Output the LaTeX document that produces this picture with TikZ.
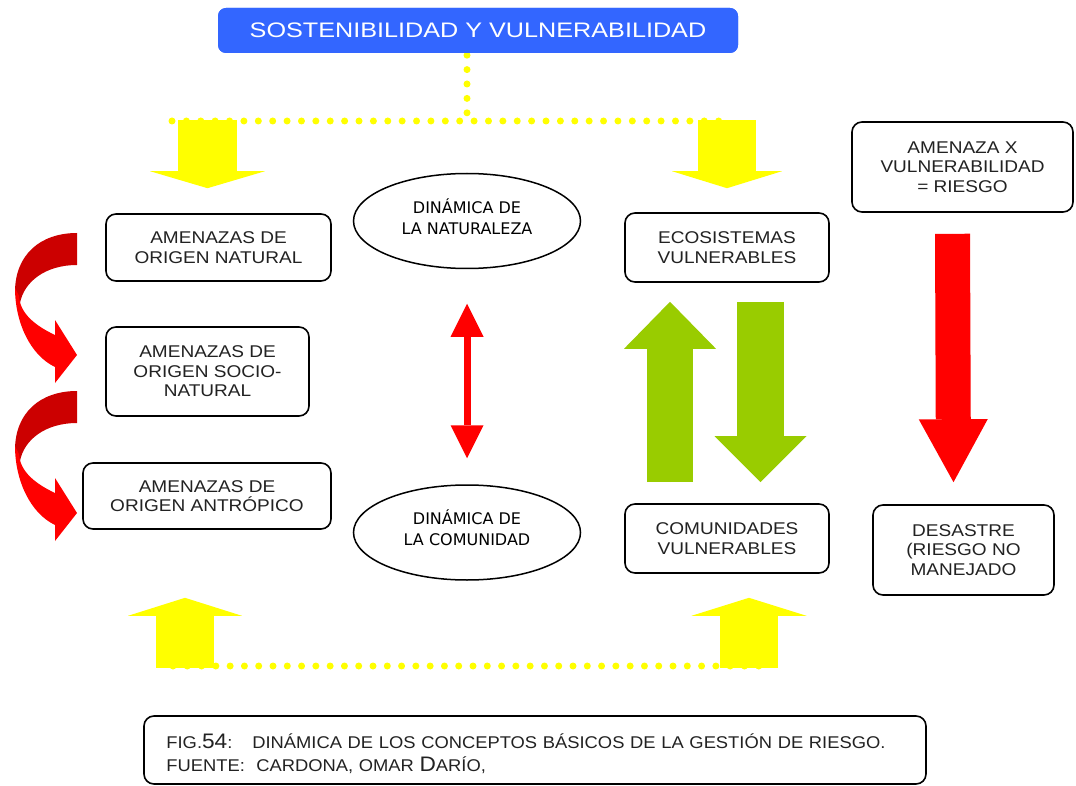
\documentclass[tikz,border=0pt]{standalone}
\usepackage{fontspec}
\setmainfont{Liberation Sans}
\newfontfamily\boxfont[FakeStretch=1.12]{Liberation Sans}
\newfontfamily\titlefont[FakeStretch=1.2]{Liberation Sans}
\newfontfamily\elfont{DejaVu Sans}
\newfontfamily\capfont[FakeStretch=1.08]{Liberation Sans}
\usetikzlibrary{arrows.meta,shapes.geometric,calc}
\definecolor{ttlblue}{HTML}{3366FF}
\definecolor{ylw}{HTML}{FFFF00}
\definecolor{grn}{HTML}{99CC00}
\definecolor{rd}{HTML}{FF0000}
\definecolor{drd}{HTML}{CC0000}
\definecolor{txt}{HTML}{222222}
\begin{document}
\begin{tikzpicture}[x=1pt,y=-1pt,
  rbox/.style={draw=black, line width=1.6pt, rounded corners=10pt, fill=white, align=center, text=txt, font=\boxfont\fontsize{17}{19.5}\selectfont, inner sep=0pt},
  ell/.style={ellipse, draw=black, line width=1.5pt, minimum width=227pt, minimum height=95pt, inner sep=0pt},
  elltext/.style={align=center, inner sep=0pt, text=black, font=\elfont\fontsize{16}{21}\selectfont},
  dots/.style={draw=ylw, line width=7pt, line cap=round},
  blk/.style n args={4}{draw=#1, fill=#1, line width=#2, -{Triangle[width=#3,length=#4,line width=0pt]}},
]
\useasboundingbox (0,0) rectangle (1076,786);

% dotted connectors (behind)
\coordinate (tl) at (172,121);
\coordinate (tr) at (733,121);
\coordinate (bl) at (173,666);
\coordinate (br) at (773,666);
\draw[dots, dash pattern=on 0pt off 14.385pt] (tl) -- (tr);
\draw[dots, dash pattern=on 0pt off 14.286pt] (bl) -- (br);

% title
\node[fill=ttlblue, rounded corners=8pt, minimum width=520pt, minimum height=45pt, inner sep=0pt,
      text=white, font=\titlefont\fontsize{21}{24}\selectfont] (title) at (478,30.5) {SOSTENIBILIDAD Y VULNERABILIDAD};
\draw[dots, dash pattern=on 0pt off 14.4pt] ($(title.south)+(-11,2)$) -- ($(title.south)+(-11,60)$);
\node[fill=ttlblue, rounded corners=8pt, minimum width=520pt, minimum height=45pt, inner sep=0pt,
      text=white, font=\titlefont\fontsize{21}{24}\selectfont] at (title) {SOSTENIBILIDAD Y VULNERABILIDAD};

% boxes
\node[rbox, minimum width=225pt, minimum height=67pt] (nat) at (218.5,247.5) {AMENAZAS DE\\ORIGEN NATURAL};
\node[rbox, minimum width=203pt, minimum height=89pt] (soc) at (207.5,371.5) {AMENAZAS DE\\ORIGEN SOCIO-\\NATURAL};
\node[rbox, minimum width=248pt, minimum height=66pt] (ant) at (207,496) {AMENAZAS DE\\ORIGEN ANTRÓPICO};
\node[ell] (natu) at (467,221) {};
\node[elltext] (natut) at ($(natu)+(0,-4.5)$) {DINÁMICA DE\\LA NATURALEZA};
\node[ell] (comu) at (467,532.5) {};
\node[elltext] (comut) at ($(comu)+(0,-4.5)$) {DINÁMICA DE\\LA COMUNIDAD};
\node[rbox, minimum width=204pt, minimum height=69pt] (eco) at (727,247.5) {ECOSISTEMAS\\VULNERABLES};
\node[rbox, minimum width=204pt, minimum height=69pt] (com) at (727,538.5) {COMUNIDADES\\VULNERABLES};
\node[rbox, minimum width=221pt, minimum height=90pt] (rie) at (962.5,167) {AMENAZA X\\VULNERABILIDAD\\= RIESGO};
\node[rbox, minimum width=181pt, minimum height=90pt] (des) at (963.5,550) {DESASTRE\\(RIESGO NO\\MANEJADO};

% yellow block arrows
\draw[blk={ylw}{59pt}{115pt}{17pt}] ($(nat.north)+(-11,-93)$) -- ($(nat.north)+(-11,-25)$);
\draw[blk={ylw}{58pt}{110pt}{17pt}] ($(eco.north)+(0,-92)$) -- ($(eco.north)+(0,-24)$);
\draw[blk={ylw}{58pt}{114pt}{18pt}] ($(ant.south)+(-22,138)$) -- ($(ant.south)+(-22,68)$);
\draw[blk={ylw}{58pt}{115pt}{18pt}] ($(com.south)+(22,94)$) -- ($(com.south)+(22,24)$);

% red double arrow between ellipses
\draw[rd, line width=7pt, {Triangle[width=33pt,length=33pt,line width=0pt]}-{Triangle[width=33pt,length=33pt,line width=0pt]},
      shorten <=34.5pt, shorten >=26pt] (natu.south) -- (comu.north);

% green block arrows
\draw[blk={grn}{46pt}{92pt}{47pt}] ($(com.north)+(-57,-21)$) -- ($(eco.south)+(-57,19)$);
\draw[blk={grn}{47pt}{92pt}{46pt}] ($(eco.south)+(33.5,19)$) -- ($(com.north)+(33.5,-21)$);

% red block arrow
\draw[blk={rd}{35pt}{69pt}{63pt}] ($(rie.south)+(-10,21)$) -- ($(des.north)+(-10,-22)$);

% curved red arrows
\foreach \dy in {0,158}{
  \begin{scope}[yshift=-\dy pt]
    \fill[drd] (77,233) .. controls (40,233) and (15,255) .. (15,292) -- (20,303)
      .. controls (24,282) and (45,265) .. (77,265) -- cycle;
    \fill[rd] (15,288) .. controls (15,322) and (30,355) .. (55,367) -- (55,383) -- (77,355) -- (55,320) -- (55,335)
      .. controls (36,326) and (20,314) .. (19,296) -- cycle;
  \end{scope}
}

% caption
\node[draw=black, line width=1.6pt, rounded corners=10pt, minimum width=782pt, minimum height=68pt, inner sep=0pt] (cap) at (535,750) {};
\node[anchor=west, inner sep=0pt, text width=736pt, align=left, text=txt,
      font=\capfont\fontsize{17}{23}\selectfont] (capt) at ($(cap.west)+(23,4)$)
  {FIG.{\fontsize{21}{23}\selectfont 54}:~~ DINÁMICA DE LOS CONCEPTOS BÁSICOS DE LA GESTIÓN DE RIESGO.\\
   FUENTE:~ CARDONA, OMAR {\fontsize{21}{23}\selectfont D}ARÍO,};
\end{tikzpicture}
\end{document}
